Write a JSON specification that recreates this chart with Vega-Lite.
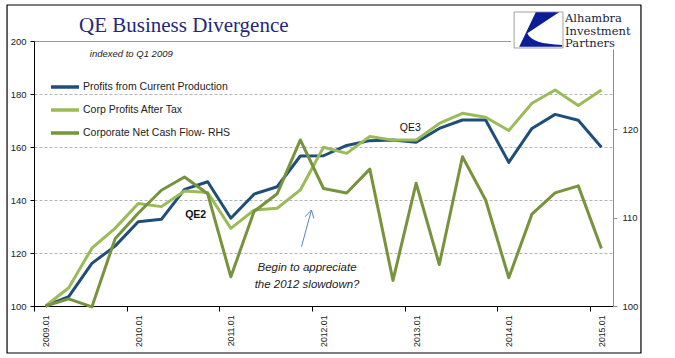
{
  "$schema": "https://vega.github.io/schema/vega-lite/v6.json",
  "width": 579,
  "height": 265,
  "autosize": {"type": "none"},
  "padding": {"left": 34, "top": 41, "right": 62, "bottom": 52},
  "background": "white",
  "config": {"view": {"stroke": null}, "font": "Liberation Sans"},
  "title": {
    "text": "QE Business Divergence",
    "anchor": "start",
    "frame": "group",
    "font": "Liberation Serif",
    "fontSize": 21,
    "fontWeight": "normal",
    "color": "#1f2a78",
    "dx": 45,
    "offset": -49,
    "baseline": "alphabetic"
  },
  "datasets": {
    "series": [
      {"quarter": "2009Q1", "n": 0, "pcp": 100, "cpat": 100, "ncf": 100},
      {"quarter": "2009Q2", "n": 1, "pcp": 103.5, "cpat": 106.9, "ncf": 100.8},
      {"quarter": "2009Q3", "n": 2, "pcp": 116.1, "cpat": 121.8, "ncf": 99.9},
      {"quarter": "2009Q4", "n": 3, "pcp": 122.6, "cpat": 129.3, "ncf": 107.6},
      {"quarter": "2010Q1", "n": 4, "pcp": 131.8, "cpat": 138.7, "ncf": 110.5},
      {"quarter": "2010Q2", "n": 5, "pcp": 132.7, "cpat": 137.5, "ncf": 113.1},
      {"quarter": "2010Q3", "n": 6, "pcp": 144.0, "cpat": 143.4, "ncf": 114.6},
      {"quarter": "2010Q4", "n": 7, "pcp": 146.9, "cpat": 142.8, "ncf": 112.7},
      {"quarter": "2011Q1", "n": 8, "pcp": 133.1, "cpat": 129.3, "ncf": 103.3},
      {"quarter": "2011Q2", "n": 9, "pcp": 142.2, "cpat": 136.2, "ncf": 110.7},
      {"quarter": "2011Q3", "n": 10, "pcp": 145.0, "cpat": 136.9, "ncf": 112.7},
      {"quarter": "2011Q4", "n": 11, "pcp": 156.6, "cpat": 143.8, "ncf": 118.8},
      {"quarter": "2012Q1", "n": 12, "pcp": 156.7, "cpat": 159.9, "ncf": 113.3},
      {"quarter": "2012Q2", "n": 13, "pcp": 160.6, "cpat": 157.6, "ncf": 112.8},
      {"quarter": "2012Q3", "n": 14, "pcp": 162.4, "cpat": 164.0, "ncf": 115.5},
      {"quarter": "2012Q4", "n": 15, "pcp": 162.6, "cpat": 162.6, "ncf": 102.9},
      {"quarter": "2013Q1", "n": 16, "pcp": 161.8, "cpat": 162.6, "ncf": 113.9},
      {"quarter": "2013Q2", "n": 17, "pcp": 167.0, "cpat": 168.9, "ncf": 104.7},
      {"quarter": "2013Q3", "n": 18, "pcp": 170.2, "cpat": 172.7, "ncf": 116.9},
      {"quarter": "2013Q4", "n": 19, "pcp": 170.2, "cpat": 171.2, "ncf": 112.0},
      {"quarter": "2014Q1", "n": 20, "pcp": 154.2, "cpat": 166.2, "ncf": 103.2},
      {"quarter": "2014Q2", "n": 21, "pcp": 167.0, "cpat": 176.5, "ncf": 110.4},
      {"quarter": "2014Q3", "n": 22, "pcp": 172.3, "cpat": 181.5, "ncf": 112.8},
      {"quarter": "2014Q4", "n": 23, "pcp": 170.1, "cpat": 175.7, "ncf": 113.6},
      {"quarter": "2015Q1", "n": 24, "pcp": 159.9, "cpat": 181.5, "ncf": 106.5}
    ],
    "boxes": [
      {"kind": "frame", "n": -1.664, "n2": 25.707, "v": 213.58, "v2": 82.26},
      {"kind": "cover", "n": 20.1, "n2": 25.62, "v": 212.45, "v2": 196.8},
      {"kind": "logobox", "n": 20.23, "n2": 22.34, "v": 210.94, "v2": 197.36}
    ],
    "arrow": [
      {"n": 11.05, "v": 122.38, "n2": 11.48, "v2": 136.23},
      {"n": 11.48, "v": 136.23, "n2": 11.21, "v2": 133.7},
      {"n": 11.48, "v": 136.23, "n2": 11.58, "v2": 133.1}
    ],
    "notes": [
      {"kind": "sub", "n": 1.91, "v": 193.8, "label": "indexed to Q1 2009"},
      {"kind": "qe2", "n": 6.48, "v": 134.3, "label": "QE2"},
      {"kind": "qe3", "n": 15.75, "v": 167.2, "label": "QE3"},
      {"kind": "begin", "n": 11.29, "v": 114.3, "label": "Begin to appreciate"},
      {"kind": "begin", "n": 11.29, "v": 107.9, "label": "the 2012 slowdown?"},
      {"kind": "logo", "n": 22.43, "v": 207.0, "label": "Alhambra"},
      {"kind": "logo", "n": 22.43, "v": 202.26, "label": "Investment"},
      {"kind": "logo", "n": 22.43, "v": 197.55, "label": "Partners"},
      {"kind": "mark", "n": 21.31, "v": 204.15, "label": ""}
    ]
  },
  "data": {"name": "series"},
  "encoding": {
    "x": {
      "field": "n",
      "type": "quantitative",
      "scale": {"domain": [-0.5, 24.5], "nice": false, "zero": false},
      "axis": {
        "values": [-0.5, 3.5, 7.5, 11.5, 15.5, 19.5, 23.5],
        "labelExpr": "(2009 + (datum.value + 0.5) / 4) + '.01'",
        "labelAngle": 270,
        "labelOffset": 11.6,
        "title": null,
        "grid": false,
        "domainColor": "#000000",
        "tickColor": "#000000",
        "tickSize": 5,
        "labelFontSize": 8.7,
        "labelColor": "#222222",
        "labelPadding": 4,
        "labelFlush": false,
        "labelOverlap": false
      }
    }
  },
  "layer": [
    {
      "encoding": {
        "y": {
          "field": "v",
          "type": "quantitative",
          "scale": {"domain": [100, 200], "nice": false, "zero": false},
          "axis": {
            "orient": "left",
            "values": [100, 120, 140, 160, 180, 200],
            "title": null,
            "domainColor": "#000000",
            "tickColor": "#000000",
            "tickSize": 4,
            "labelFontSize": 9.5,
            "labelColor": "#222222",
            "labelPadding": 4,
            "grid": true,
            "gridColor": {"condition": {"test": "datum.value === 200", "value": "#999999"}, "value": "#b5b5b5"},
            "gridDash": {"condition": {"test": "datum.value === 200", "value": []}, "value": [3, 2]}
          }
        }
      },
      "layer": [
        {
          "data": {"name": "boxes"},
          "transform": [{"filter": "datum.kind === 'frame'"}],
          "mark": {"type": "rect", "filled": false, "color": "#000000", "strokeWidth": 1.2, "opacity": 1},
          "encoding": {"x2": {"field": "n2"}, "y2": {"field": "v2"}}
        },
        {
          "transform": [{"fold": ["pcp", "cpat"], "as": ["series", "v"]}],
          "mark": {"type": "line", "strokeWidth": 3, "strokeJoin": "round"},
          "encoding": {
            "color": {
              "field": "series",
              "type": "nominal",
              "scale": {"domain": ["pcp", "cpat", "ncf"], "range": ["#1f4e79", "#9bbb59", "#77933c"]},
              "legend": {
                "orient": "none",
                "legendX": 15,
                "legendY": 30,
                "title": null,
                "symbolType": "stroke",
                "symbolSize": 784,
                "symbolStrokeWidth": 3.5,
                "labelFont": "Liberation Sans",
                "labelFontSize": 10.5,
                "labelColor": "#222222",
                "rowPadding": -4,
                "labelOffset": 2,
                "padding": 0,
                "labelExpr": "datum.value === 'pcp' ? 'Profits from Current Production' : datum.value === 'cpat' ? 'Corp Profits After Tax' : 'Corporate Net Cash Flow- RHS'"
              }
            }
          }
        },
        {
          "data": {"name": "boxes"},
          "transform": [{"filter": "datum.kind === 'cover'"}],
          "mark": {"type": "rect", "fill": "white", "strokeWidth": 0},
          "encoding": {"x2": {"field": "n2"}, "y2": {"field": "v2"}}
        },
        {
          "data": {"name": "boxes"},
          "transform": [{"filter": "datum.kind === 'logobox'"}],
          "mark": {"type": "rect", "fill": "white", "stroke": "#a0a0a0", "strokeWidth": 1},
          "encoding": {"x2": {"field": "n2"}, "y2": {"field": "v2"}}
        },
        {
          "data": {"name": "notes"},
          "transform": [{"filter": "datum.kind === 'mark'"}],
          "mark": {
            "type": "point",
            "shape": "M-0.14,-0.74 L0.83,-0.74 L-0.49,0.14 Q-0.3,0.6 0.96,0.62 L0.96,0.7 L-0.83,0.7 Z",
            "size": 2304,
            "filled": true,
            "color": "#0c1e96",
            "opacity": 1,
            "strokeWidth": 0
          }
        },
        {
          "data": {"name": "notes"},
          "transform": [{"filter": "datum.kind === 'logo'"}],
          "mark": {"type": "text", "font": "DejaVu Serif", "fontSize": 11.5, "color": "#1d1d3a", "align": "left", "baseline": "alphabetic"},
          "encoding": {"text": {"field": "label"}}
        },
        {
          "data": {"name": "notes"},
          "transform": [{"filter": "datum.kind === 'sub'"}],
          "mark": {"type": "text", "fontSize": 9.5, "fontStyle": "italic", "color": "#222222", "align": "left", "baseline": "alphabetic"},
          "encoding": {"text": {"field": "label"}}
        },
        {
          "data": {"name": "notes"},
          "transform": [{"filter": "datum.kind === 'qe2'"}],
          "mark": {"type": "text", "fontSize": 10.5, "fontWeight": "bold", "color": "#111111", "align": "center", "baseline": "middle"},
          "encoding": {"text": {"field": "label"}}
        },
        {
          "data": {"name": "notes"},
          "transform": [{"filter": "datum.kind === 'qe3'"}],
          "mark": {"type": "text", "fontSize": 10.5, "color": "#111111", "align": "center", "baseline": "middle"},
          "encoding": {"text": {"field": "label"}}
        },
        {
          "data": {"name": "notes"},
          "transform": [{"filter": "datum.kind === 'begin'"}],
          "mark": {"type": "text", "fontSize": 11.5, "fontStyle": "italic", "color": "#222222", "align": "center", "baseline": "middle"},
          "encoding": {"text": {"field": "label"}}
        },
        {
          "data": {"name": "arrow"},
          "mark": {"type": "rule", "color": "#5b85c0", "strokeWidth": 1},
          "encoding": {"x2": {"field": "n2"}, "y2": {"field": "v2"}}
        }
      ]
    },
    {
      "transform": [{"fold": ["ncf"], "as": ["series", "r"]}],
      "mark": {"type": "line", "strokeWidth": 3, "strokeJoin": "round"},
      "encoding": {
        "y": {
          "field": "r",
          "type": "quantitative",
          "scale": {"domain": [100, 130], "nice": false, "zero": false},
          "axis": {
            "orient": "right",
            "values": [100, 110, 120],
            "title": null,
            "domainColor": "#8c8c8c",
            "tickColor": "#8c8c8c",
            "tickSize": 4,
            "labelFontSize": 9.5,
            "labelColor": "#222222",
            "labelPadding": 5,
            "grid": false
          }
        },
        "color": {
          "field": "series",
          "type": "nominal",
          "scale": {"domain": ["pcp", "cpat", "ncf"], "range": ["#1f4e79", "#9bbb59", "#77933c"]}
        }
      }
    }
  ],
  "resolve": {"scale": {"y": "independent"}}
}
